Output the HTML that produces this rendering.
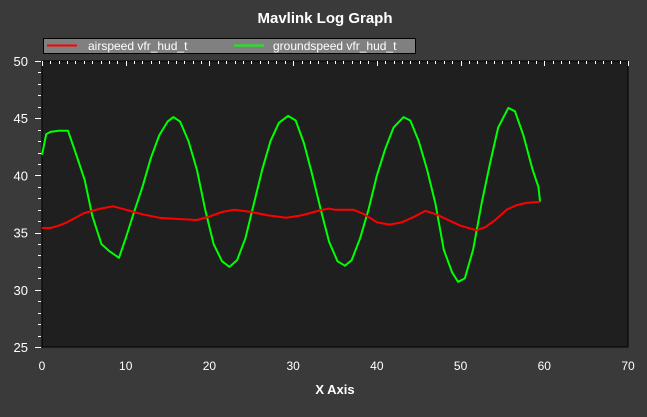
<!DOCTYPE html>
<html><head><meta charset="utf-8"><style>
body{margin:0;background:#3a3a3a;font-family:"Liberation Sans",sans-serif}
svg text{font-family:"Liberation Sans",sans-serif;fill:#fff}
</style></head><body>
<svg id="c" width="647" height="412" xmlns="http://www.w3.org/2000/svg">
<rect width="647" height="412" fill="#3a3a3a"/>
<text x="325" y="23" text-anchor="middle" font-size="15" font-weight="bold">Mavlink Log Graph</text>
<g>
<rect x="43.5" y="38.5" width="372" height="15" fill="#808080" stroke="#000"/>
<line x1="47" y1="45.5" x2="77" y2="45.5" stroke="#f00" stroke-width="2"/>
<text x="88" y="50" font-size="12">airspeed vfr_hud_t</text>
<line x1="234" y1="45.5" x2="264" y2="45.5" stroke="#0f0" stroke-width="2"/>
<text x="273" y="50" font-size="12">groundspeed vfr_hud_t</text>
</g>
<rect x="42" y="61" width="586" height="286" fill="#1f1f1f" stroke="#000"/>
<g id="axes"></g>
<g id="series"></g>
<text x="335" y="394" text-anchor="middle" font-size="13" font-weight="bold">X Axis</text>
</svg>
<script>
const xTicks=[0,10,20,30,40,50,60,70];
const yTicks=[25,30,35,40,45,50];
const airX=[0,1,2,3,4,5,6,7,8.5,10,12,14,16,18.5,20,21.5,23,25,27,29.2,31,33,34.2,35,37.2,38.5,40,41.5,43,44.5,45.8,47.1,48.5,50,51.9,53,54.3,55.5,56.7,57.9,59.5];
const airY=[35.4,35.4,35.6,35.9,36.3,36.7,36.9,37.1,37.3,37.0,36.6,36.3,36.2,36.1,36.4,36.8,37.0,36.8,36.5,36.3,36.5,36.9,37.1,37.0,37.0,36.6,35.9,35.7,35.9,36.4,36.9,36.6,36.1,35.6,35.2,35.5,36.2,37.0,37.4,37.6,37.7];
const gndX=[0,0.5,1,2,3.1,4,5.1,6,7.1,8,9.2,10,11,12,13,14,15,15.7,16.5,17.5,18.5,19.5,20.5,21.5,22.4,23.3,24.3,25.3,26.3,27.3,28.3,29.4,30.3,31.3,32.3,33.3,34.3,35.3,36.2,37,38,39,40,41,42,43.2,44,45,46,47,48,49,49.7,50.5,51.5,52.5,53.5,54.5,55.7,56.5,57.5,58.6,59.3,59.5];
const gndY=[41.8,43.6,43.8,43.9,43.9,42,39.6,36.5,34,33.4,32.8,34.5,36.8,39,41.5,43.5,44.7,45.1,44.7,43,40.5,37,34,32.5,32,32.6,34.5,37.5,40.5,43,44.6,45.2,44.8,42.8,40,37,34.2,32.5,32.1,32.6,34.5,37,40,42.3,44.2,45.1,44.8,43,40.5,37.5,33.5,31.5,30.7,31,33.5,37.5,41,44.2,45.9,45.6,43.5,40.5,39,37.7];
const X0=42,X1=628,Y0=347,Y1=61;
const sx=v=>X0+(v-0)/(70-0)*(X1-X0);
const sy=v=>Y0-(v-25)/(50-25)*(Y0-Y1);
const NS="http://www.w3.org/2000/svg";
const ax=document.getElementById('axes'),se=document.getElementById('series');
function mk(t,a,p){const e=document.createElementNS(NS,t);for(const k in a)e.setAttribute(k,a[k]);p.appendChild(e);return e;}
for(let v=0;v<=70;v++){const x=Math.round(sx(v))+0.5;const big=v%10===0;
const l=mk('line',{x1:x,x2:x,y1:Y1,y2:Y1+(big?5:3),stroke:'#fff'},ax);

}
xTicks.forEach(v=>{const t=mk('text',{x:sx(v),y:370,'text-anchor':'middle','font-size':12},ax);t.textContent=v;

});
for(let v=25;v<=50;v++){const y=Math.round(sy(v))+0.5;const big=v%5===0;
const l=mk('line',{x1:X0-(big?7:4),x2:X0-1,y1:y,y2:y,stroke:'#fff'},ax);

}
yTicks.forEach(v=>{const t=mk('text',{x:28,y:sy(v)+5,'text-anchor':'end','font-size':13},ax);t.textContent=v;

});
function line(xs,ys,col,name){const d=xs.map((x,i)=>(i?'L':'M')+sx(x).toFixed(1)+','+sy(ys[i]).toFixed(1)).join('');
const p=mk('path',{d:d,fill:'none',stroke:col,'stroke-width':2,'stroke-linejoin':'round'},se);

}
line(gndX,gndY,'#0f0','groundspeed-line');
line(airX,airY,'#f00','airspeed-line');
</script>
</body></html>
